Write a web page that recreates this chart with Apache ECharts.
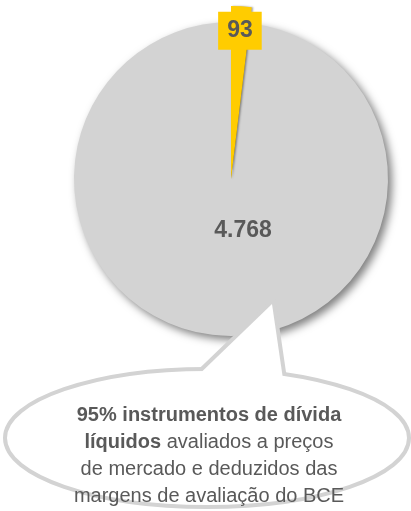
<!DOCTYPE html>
<html><head><meta charset="utf-8">
<script src="https://cdn.jsdelivr.net/npm/echarts@6/dist/echarts.min.js"></script>
<style>html,body{margin:0;padding:0;background:#fff}#c{width:411px;height:511px}</style>
</head><body><div id="c"></div>
<script>
// ---- data ----
const categories = ['Outros ativos', 'Instrumentos de dívida líquidos'];
const values = [93, 4768];
// callout text: [bold part, regular part] per line
const calloutLines = [
  ['95% instrumentos de dívida', ''],
  ['líquidos', ' avaliados a preços'],
  ['', 'de mercado e deduzidos das'],
  ['', 'margens de avaliação do BCE']
];

// ---- styles ----
const YELLOW = '#FFCC00', GREY = '#D3D3D3', TEXT = '#595959', BORDER = '#D3D3D3';
const FONT = 'Arial, "Liberation Sans", sans-serif';
const CENTER = [231, 179];
const fmt = v => String(v).replace(/\B(?=(\d{3})+(?!\d))/g, '.');
const colors = [YELLOW, GREY];
const TRANSP = 'rgba(0,0,0,0)';

const calloutText = calloutLines.map(([b, r]) => (b ? '{b|' + b + '}' : '') + (r ? '{r|' + r + '}' : '')).join('\n');

const labelBase = { fontFamily: FONT, fontSize: 23, fontWeight: 'bold', color: TEXT };

const chart = echarts.init(document.getElementById('c'), null, { renderer: 'canvas' });
chart.setOption({
  backgroundColor: '#fff',
  animation: false,
  series: [
    {
      type: 'pie', silent: true, center: CENTER, radius: [0, 157], startAngle: 90, clockwise: true,
      avoidLabelOverlap: false, labelLine: { show: false },
      itemStyle: { borderWidth: 0, shadowBlur: 8, shadowOffsetX: 4, shadowOffsetY: 4, shadowColor: 'rgba(0,0,0,0.5)' },
      data: values.map((v, i) => ({
        name: categories[i], value: v, itemStyle: { color: colors[i] },
        label: i === 1 ? Object.assign({
          show: true, position: 'center', padding: [0, 0, 0, 24],
          formatter: p => '{s|}\n{v|' + fmt(p.value) + '}',
          rich: {
            s: { height: 104, lineHeight: 104 },
            v: { fontFamily: FONT, fontSize: 23, fontWeight: 'bold', color: TEXT, lineHeight: 28 }
          }
        }, labelBase) : { show: false }
      }))
    },
    {
      type: 'pie', silent: true, center: CENTER, radius: [0, 173], startAngle: 90, clockwise: true,
      avoidLabelOverlap: false, labelLine: { show: false }, label: { show: false },
      data: values.map((v, i) => ({
        name: categories[i], value: v,
        itemStyle: i === 0
          ? { color: YELLOW, borderWidth: 0, shadowBlur: 2, shadowOffsetX: 1.5, shadowOffsetY: 0, shadowColor: 'rgba(0,0,0,0.35)' }
          : { color: TRANSP, borderWidth: 0 }
      }))
    },
    {
      type: 'pie', silent: true, center: CENTER, radius: [118, 173], startAngle: 90, clockwise: true,
      avoidLabelOverlap: false, labelLine: { show: false },
      itemStyle: { color: TRANSP, borderWidth: 0 },
      data: values.map((v, i) => ({
        name: categories[i], value: v,
        label: i === 0 ? Object.assign({
          show: true, position: 'inside', backgroundColor: YELLOW, padding: [8, 9, 7, 9],
          formatter: p => fmt(p.value)
        }, labelBase) : { show: false }
      }))
    }
  ],
  graphic: [
    { type: 'polygon', z: 10, silent: true, shape: { points: [[187, 386], [272, 304], [284, 386]] },
      style: { fill: '#fff', stroke: BORDER, lineWidth: 8, lineJoin: 'miter' } },
    { type: 'ellipse', z: 11, silent: true, shape: { cx: 207, cy: 438, rx: 202, ry: 69 },
      style: { fill: '#fff', stroke: BORDER, lineWidth: 4 } },
    { type: 'polygon', z: 12, silent: true, shape: { points: [[187, 386], [272, 304], [284, 386]] },
      style: { fill: '#fff' } },
    { type: 'text', z: 13, silent: true,
      style: {
        x: 209, y: 456, text: calloutText, textAlign: 'center', verticalAlign: 'middle',
        fontFamily: FONT, fontSize: 20, fill: TEXT, lineHeight: 27,
        rich: {
          b: { fontFamily: FONT, fontSize: 20, fontWeight: 'bold', fill: TEXT, lineHeight: 27 },
          r: { fontFamily: FONT, fontSize: 20, fill: TEXT, lineHeight: 27 }
        }
      } }
  ]
});
</script></body></html>
